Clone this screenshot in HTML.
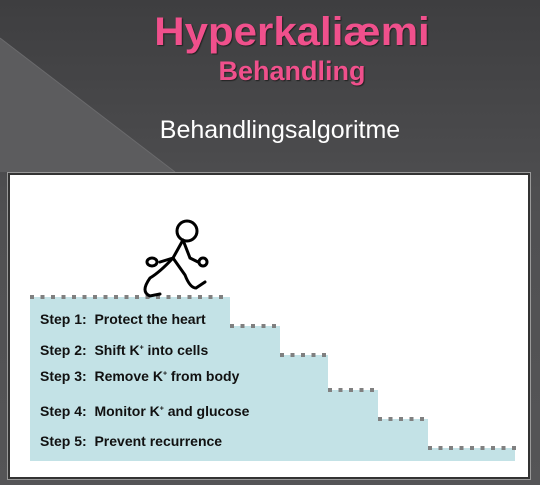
<!DOCTYPE html>
<html><head><meta charset="utf-8"><style>
html,body{margin:0;padding:0}
body{width:540px;height:485px;overflow:hidden;position:relative;background:linear-gradient(180deg,#3e3e40 0%,#505052 45%,#555557 100%);font-family:"Liberation Sans",sans-serif}
.t1{position:absolute;left:0;width:540px;text-align:center;white-space:nowrap}
</style></head><body>
<svg width="540" height="485" style="position:absolute;left:0;top:0">
<polygon points="0,38 175,172 0,172" fill="#5c5c5e"/>
<line x1="0" y1="38" x2="175" y2="172" stroke="#6a6a6c" stroke-width="1"/>
</svg>
<div class="t1" style="top:10px;left:22px;font-size:40px;font-weight:bold;color:#f0508c;text-shadow:1px 1px 1px #222;transform:scaleX(1.05)">Hyperkaliæmi</div>
<div class="t1" style="top:56px;left:22px;font-size:27px;font-weight:bold;color:#f0508c;text-shadow:1px 1px 1px #222">Behandling</div>
<div class="t1" style="top:116px;left:10px;font-size:25px;color:#fff">Behandlingsalgoritme</div>
<div style="position:absolute;left:8px;top:173px;width:518px;height:302px;background:#fff;border:2px solid #333;outline:1px solid #999"></div>
<svg width="540" height="485" style="position:absolute;left:0;top:0">
<polygon points="30,297 230,297 230,326 280,326 280,355 328,355 328,390 378,390 378,419 428,419 428,448 515,448 515,461 30,461" fill="#c3e2e6"/>
<g fill="#808080" id="dots"></g>
<g fill="none" stroke="#000" stroke-width="3" stroke-linecap="round">
<circle cx="187" cy="231" r="10" fill="#fff"/>
<path d="M183,240 L173,258 L160,262"/>
<ellipse cx="152" cy="262" rx="5" ry="4" fill="#fff"/>
<path d="M183,240 L190,258 L198,262"/>
<circle cx="203" cy="262" r="4" fill="#fff"/>
<path d="M173,258 Q160,272 150,278 Q140,292 150,296 L160,294"/>
<path d="M173,258 L185,275 Q190,288 196,288 L205,282"/>
</g>
</svg>
<script>
var g=document.getElementById('dots');
var segs=[[30,230,297],[230,280,326],[280,328,355],[328,378,390],[378,428,419],[428,515,448]];
segs.forEach(function(s){for(var x=s[0];x<s[1]-2;x+=10.5){var r=document.createElementNS('http://www.w3.org/2000/svg','rect');r.setAttribute('x',x);r.setAttribute('y',s[2]-2);r.setAttribute('width',4);r.setAttribute('height',4);


g.appendChild(r);}});
</script>
<div style="position:absolute;left:40px;top:0;font-size:14px;font-weight:bold;color:#111">
<div style="position:absolute;top:311px;white-space:nowrap">Step 1:&nbsp; Protect the heart</div>
<div style="position:absolute;top:342px;white-space:nowrap">Step 2:&nbsp; Shift K<sup style="font-size:7px">+</sup> into cells</div>
<div style="position:absolute;top:368px;white-space:nowrap">Step 3:&nbsp; Remove K<sup style="font-size:7px">+</sup> from body</div>
<div style="position:absolute;top:403px;white-space:nowrap">Step 4:&nbsp; Monitor K<sup style="font-size:7px">+</sup> and glucose</div>
<div style="position:absolute;top:433px;white-space:nowrap">Step 5:&nbsp; Prevent recurrence</div>
</div>
</body></html>
